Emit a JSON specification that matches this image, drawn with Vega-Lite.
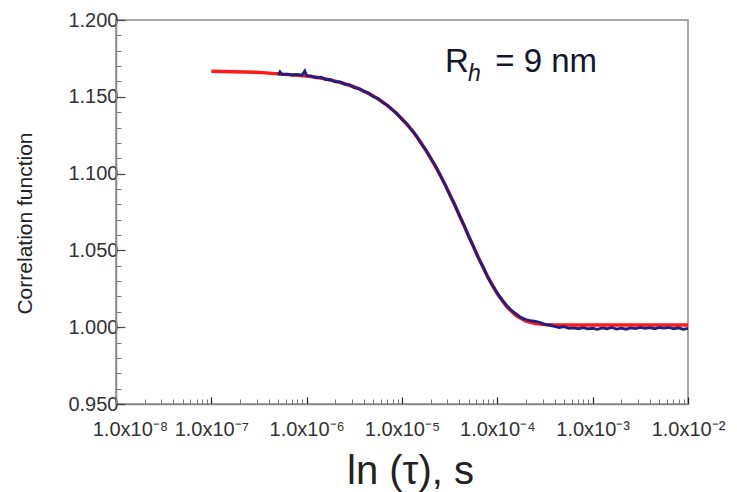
{
  "$schema": "https://vega.github.io/schema/vega-lite/v6.json",
  "width": 572,
  "height": 384,
  "autosize": {"type": "none"},
  "padding": {"left": 116, "top": 20, "right": 49, "bottom": 88},
  "background": "white",
  "config": {
    "view": {"stroke": "#8a8a8a", "strokeWidth": 1.5},
    "font": "Liberation Sans"
  },
  "datasets": {
    "fit": [
      {"tau": 1e-7, "g": 1.1667}, {"tau": 3.162e-7, "g": 1.1659}, {"tau": 1e-6, "g": 1.1636},
      {"tau": 1.259e-6, "g": 1.1627}, {"tau": 1.585e-6, "g": 1.1616}, {"tau": 1.995e-6, "g": 1.1602},
      {"tau": 2.512e-6, "g": 1.1585}, {"tau": 3.162e-6, "g": 1.1564}, {"tau": 3.981e-6, "g": 1.1537},
      {"tau": 5.012e-6, "g": 1.1505}, {"tau": 6.310e-6, "g": 1.1465}, {"tau": 7.943e-6, "g": 1.1416},
      {"tau": 1e-5, "g": 1.1357}, {"tau": 1.259e-5, "g": 1.1286}, {"tau": 1.585e-5, "g": 1.1201},
      {"tau": 1.995e-5, "g": 1.1103}, {"tau": 2.512e-5, "g": 1.0992}, {"tau": 3.162e-5, "g": 1.0867},
      {"tau": 3.981e-5, "g": 1.0732}, {"tau": 5.012e-5, "g": 1.0593}, {"tau": 6.310e-5, "g": 1.0455},
      {"tau": 7.943e-5, "g": 1.0327}, {"tau": 1e-4, "g": 1.0218}, {"tau": 1.259e-4, "g": 1.0133},
      {"tau": 1.585e-4, "g": 1.0074}, {"tau": 1.995e-4, "g": 1.0040}, {"tau": 2.512e-4, "g": 1.0024},
      {"tau": 3.162e-4, "g": 1.0017}, {"tau": 3.981e-4, "g": 1.0015}, {"tau": 1e-3, "g": 1.0015},
      {"tau": 1e-2, "g": 1.0015}
    ],
    "measured": [
      {"tau": 5.012e-7, "g": 1.1640}, {"tau": 5.248e-7, "g": 1.1662}, {"tau": 5.495e-7, "g": 1.1645},
      {"tau": 6.310e-7, "g": 1.1648}, {"tau": 7.079e-7, "g": 1.1642}, {"tau": 7.943e-7, "g": 1.1646},
      {"tau": 8.913e-7, "g": 1.1640}, {"tau": 9.550e-7, "g": 1.1668}, {"tau": 1e-6, "g": 1.1637},
      {"tau": 1.122e-6, "g": 1.1635}, {"tau": 1.259e-6, "g": 1.1624}, {"tau": 1.413e-6, "g": 1.1628},
      {"tau": 1.585e-6, "g": 1.1612}, {"tau": 1.778e-6, "g": 1.1611}, {"tau": 1.995e-6, "g": 1.1598},
      {"tau": 2.239e-6, "g": 1.1597}, {"tau": 2.512e-6, "g": 1.1581}, {"tau": 2.818e-6, "g": 1.1578},
      {"tau": 3.162e-6, "g": 1.1560}, {"tau": 3.548e-6, "g": 1.1553}, {"tau": 3.981e-6, "g": 1.1535},
      {"tau": 4.467e-6, "g": 1.1524}, {"tau": 5.012e-6, "g": 1.1500}, {"tau": 5.623e-6, "g": 1.1489},
      {"tau": 6.310e-6, "g": 1.1462}, {"tau": 7.079e-6, "g": 1.1444}, {"tau": 7.943e-6, "g": 1.1414},
      {"tau": 8.913e-6, "g": 1.1389}, {"tau": 1e-5, "g": 1.1352}, {"tau": 1.122e-5, "g": 1.1325},
      {"tau": 1.259e-5, "g": 1.1284}, {"tau": 1.413e-5, "g": 1.1248}, {"tau": 1.585e-5, "g": 1.1196},
      {"tau": 1.778e-5, "g": 1.1155}, {"tau": 1.995e-5, "g": 1.1100}, {"tau": 2.239e-5, "g": 1.1052},
      {"tau": 2.512e-5, "g": 1.0990}, {"tau": 2.818e-5, "g": 1.0932}, {"tau": 3.162e-5, "g": 1.0862},
      {"tau": 3.548e-5, "g": 1.0803}, {"tau": 3.981e-5, "g": 1.0730}, {"tau": 4.467e-5, "g": 1.0665},
      {"tau": 5.012e-5, "g": 1.0590}, {"tau": 5.623e-5, "g": 1.0525}, {"tau": 6.310e-5, "g": 1.0452},
      {"tau": 7.079e-5, "g": 1.0392}, {"tau": 7.943e-5, "g": 1.0325}, {"tau": 8.913e-5, "g": 1.0270},
      {"tau": 1e-4, "g": 1.0222}, {"tau": 1.122e-4, "g": 1.0178}, {"tau": 1.259e-4, "g": 1.0140},
      {"tau": 1.413e-4, "g": 1.0108}, {"tau": 1.585e-4, "g": 1.0085}, {"tau": 1.778e-4, "g": 1.0062},
      {"tau": 1.995e-4, "g": 1.0050}, {"tau": 2.239e-4, "g": 1.0042}, {"tau": 2.512e-4, "g": 1.0038},
      {"tau": 2.818e-4, "g": 1.0030}, {"tau": 3.162e-4, "g": 1.0018}, {"tau": 3.548e-4, "g": 1.0012},
      {"tau": 3.981e-4, "g": 1.0005}, {"tau": 4.467e-4, "g": 0.9998}, {"tau": 5.012e-4, "g": 1.0003},
      {"tau": 5.623e-4, "g": 0.9992}, {"tau": 6.310e-4, "g": 0.9996}, {"tau": 7.079e-4, "g": 0.9990},
      {"tau": 7.943e-4, "g": 0.9997}, {"tau": 8.913e-4, "g": 0.9989}, {"tau": 1e-3, "g": 0.9993},
      {"tau": 1.122e-3, "g": 0.9986}, {"tau": 1.259e-3, "g": 0.9995}, {"tau": 1.413e-3, "g": 0.9990},
      {"tau": 1.585e-3, "g": 0.9998}, {"tau": 1.778e-3, "g": 0.9988}, {"tau": 1.995e-3, "g": 0.9994},
      {"tau": 2.239e-3, "g": 0.9987}, {"tau": 2.512e-3, "g": 0.9996}, {"tau": 2.818e-3, "g": 0.9991},
      {"tau": 3.162e-3, "g": 0.9999}, {"tau": 3.548e-3, "g": 0.9993}, {"tau": 3.981e-3, "g": 0.9997},
      {"tau": 4.467e-3, "g": 0.9990}, {"tau": 5.012e-3, "g": 0.9998}, {"tau": 5.623e-3, "g": 0.9994},
      {"tau": 6.310e-3, "g": 0.9999}, {"tau": 7.079e-3, "g": 0.9990}, {"tau": 7.943e-3, "g": 0.9996},
      {"tau": 8.913e-3, "g": 0.9986}, {"tau": 1e-2, "g": 0.9992}
    ],
    "label": [
      {"part": "R", "tau": 2.83e-5, "g": 1.1661},
      {"part": "= 9 nm", "tau": 9.5e-5, "g": 1.1661}
    ],
    "sub": [
      {"part": "h", "tau": 4.92e-5, "g": 1.1605}
    ]
  },
  "resolve": {"axis": {"x": "independent", "y": "independent"}},
  "layer": [
    {
      "data": {"name": "fit"},
      "mark": {"type": "line", "color": "#ff1a1a", "strokeWidth": 3.5, "clip": true},
      "encoding": {
        "x": {
          "field": "tau", "type": "quantitative",
          "scale": {"type": "log", "domain": [1e-8, 1e-2], "nice": false},
          "axis": {
            "orient": "bottom",
            "values": [1e-8, 1e-7, 1e-6, 1e-5, 1e-4, 1e-3, 1e-2],
            "labelExpr": "'1.0x10⁻' + ['⁰','¹','²','³','⁴','⁵','⁶','⁷','⁸','⁹'][round(-log(datum.value)/LN10)]",
            "labelFont": "Liberation Sans", "labelFontSize": 20, "labelColor": "#333",
            "labelPadding": 22, "labelBaseline": "top",
            "labelOffset": {"condition": {"test": "datum.value < 2e-8", "value": 14}, "value": 0},
            "labelOverlap": false, "labelFlush": false,
            "tickSize": -7, "tickColor": "#222", "tickWidth": 1.2,
            "domainColor": "#8a8a8a", "domainWidth": 1.5,
            "grid": false,
            "title": "ln (τ), s",
            "titleFont": "Liberation Sans", "titleFontSize": 40, "titleFontWeight": "normal", "titleColor": "#222",
            "titleX": 294, "titleY": 79, "titleBaseline": "alphabetic", "titleAlign": "center"
          }
        },
        "y": {
          "field": "g", "type": "quantitative",
          "scale": {"domain": [0.95, 1.2], "nice": false, "zero": false},
          "axis": {
            "orient": "left",
            "values": [0.95, 1.0, 1.05, 1.1, 1.15, 1.2],
            "format": ".3f",
            "labelFont": "Liberation Sans", "labelFontSize": 20, "labelColor": "#333",
            "labelPadding": 7,
            "tickSize": -9, "tickColor": "#444", "tickWidth": 1.2,
            "domainColor": "#8a8a8a", "domainWidth": 1.5,
            "grid": false,
            "title": "Correlation function",
            "titleFont": "Liberation Sans", "titleFontSize": 21, "titleFontWeight": "normal", "titleColor": "#222",
            "titleAngle": -90, "titleX": -91, "titleY": 203, "titleBaseline": "middle", "titleAlign": "center"
          }
        }
      }
    },
    {
      "data": {"name": "measured"},
      "mark": {"type": "line", "color": "#1f1f80", "strokeWidth": 2.8, "clip": true},
      "encoding": {
        "x": {
          "field": "tau", "type": "quantitative",
          "axis": {
            "orient": "bottom",
            "values": [2e-8, 3e-8, 4e-8, 5e-8, 6e-8, 7e-8, 8e-8, 9e-8,
                       2e-7, 3e-7, 4e-7, 5e-7, 6e-7, 7e-7, 8e-7, 9e-7,
                       2e-6, 3e-6, 4e-6, 5e-6, 6e-6, 7e-6, 8e-6, 9e-6,
                       2e-5, 3e-5, 4e-5, 5e-5, 6e-5, 7e-5, 8e-5, 9e-5,
                       2e-4, 3e-4, 4e-4, 5e-4, 6e-4, 7e-4, 8e-4, 9e-4,
                       2e-3, 3e-3, 4e-3, 5e-3, 6e-3, 7e-3, 8e-3, 9e-3],
            "labels": false, "domain": false, "grid": false, "title": null,
            "tickSize": -5, "tickColor": "#777", "tickWidth": 1
          }
        },
        "y": {
          "field": "g", "type": "quantitative",
          "axis": {
            "orient": "left",
            "values": [0.96, 0.97, 0.98, 0.99, 1.01, 1.02, 1.03, 1.04, 1.06, 1.07, 1.08, 1.09,
                       1.11, 1.12, 1.13, 1.14, 1.16, 1.17, 1.18, 1.19],
            "labels": false, "domain": false, "grid": false, "title": null,
            "tickSize": -5, "tickColor": "#777", "tickWidth": 1
          }
        }
      }
    },
    {
      "data": {"name": "label"},
      "mark": {"type": "text", "font": "Liberation Sans", "fontSize": 33, "color": "#151530", "align": "left", "baseline": "alphabetic"},
      "encoding": {
        "x": {"field": "tau", "type": "quantitative", "axis": null},
        "y": {"field": "g", "type": "quantitative", "axis": null},
        "text": {"field": "part"}
      }
    },
    {
      "data": {"name": "sub"},
      "mark": {"type": "text", "font": "Liberation Sans", "fontSize": 23, "fontStyle": "italic", "color": "#151530", "align": "left", "baseline": "alphabetic"},
      "encoding": {
        "x": {"field": "tau", "type": "quantitative", "axis": null},
        "y": {"field": "g", "type": "quantitative", "axis": null},
        "text": {"field": "part"}
      }
    }
  ]
}
